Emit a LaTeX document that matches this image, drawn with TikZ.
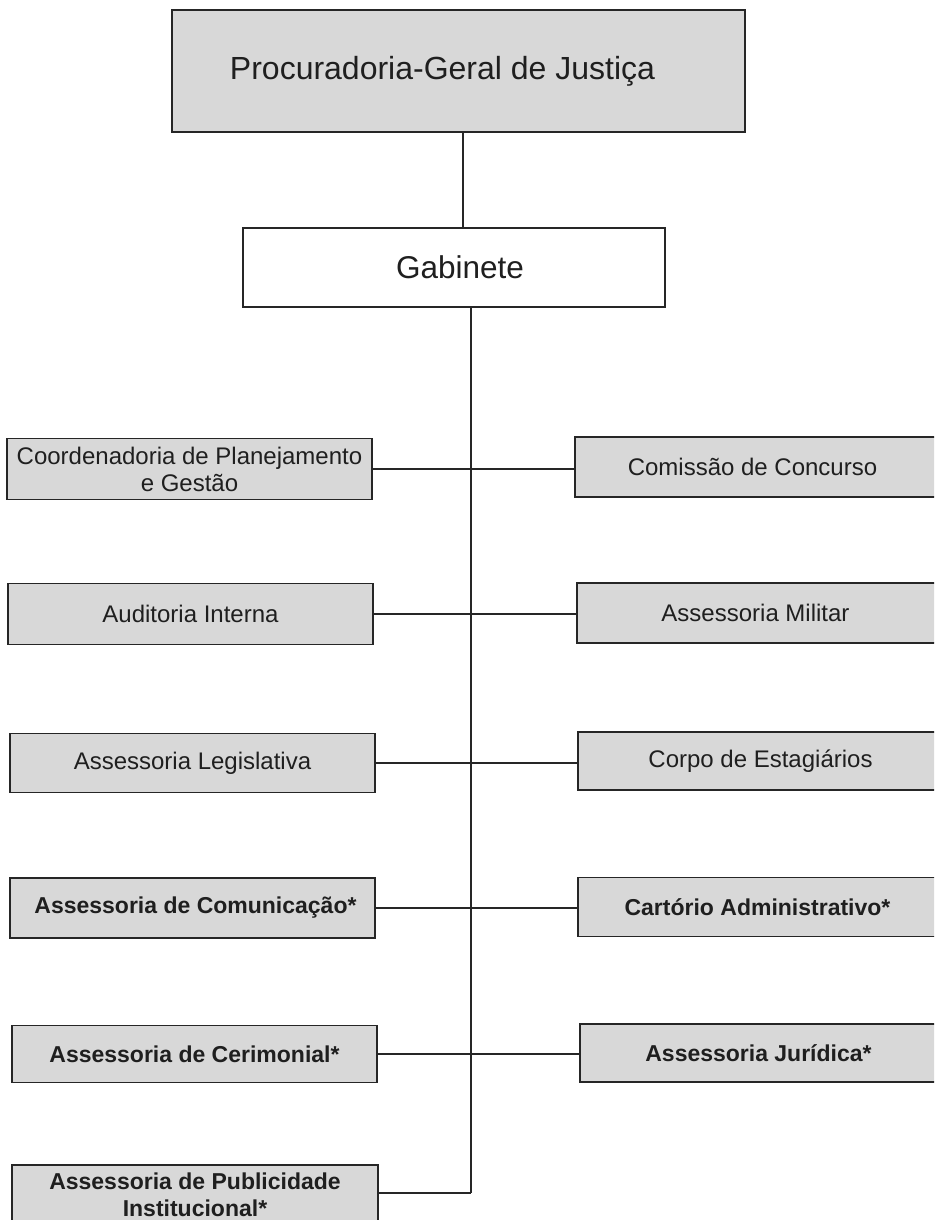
\documentclass[tikz,border=0pt]{standalone}
\usepackage{fontspec}
\setmainfont{Liberation Sans}
\begin{document}
\begin{tikzpicture}[x=1pt,y=-1pt,
  box/.style={draw=black!85,line width=1.8pt,fill=boxgray,text=black!88,align=center,inner sep=0pt,font=\fontsize{24}{27}\selectfont},
  bbox/.style={box,font=\fontsize{23}{27}\selectfont\bfseries},
  conn/.style={draw=black!85,line width=1.6pt}]
\definecolor{boxgray}{RGB}{216,216,216}
\useasboundingbox (0,0) rectangle (934,1220);
\clip (0,0) rectangle (934,1220);
% top
\node[box,minimum width=573pt,minimum height=122pt,font=\fontsize{32}{36}\selectfont] (pgj) at (458.5,71) {\hspace*{-32pt}Procuradoria-Geral de Justiça};
\node[box,fill=white,minimum width=422pt,minimum height=79pt,font=\fontsize{31.5}{36}\selectfont] (gab) at (454,267.5) {\hspace*{12pt}Gabinete};
\coordinate (tx) at (463,0);
\coordinate (tb) at (471,1193);
\draw[conn] (pgj.south -| tx) -- (gab.north -| tx);
\draw[conn] (gab.south -| tb) -- (tb);
% left column
\node[box,minimum width=365pt,minimum height=61pt] (l1) at (189.5,469) {Coordenadoria de Planejamento\\e Gestão};
\node[box,minimum width=365pt,minimum height=61pt] (l2) at (190.5,614) {Auditoria Interna};
\node[box,minimum width=365pt,minimum height=59pt] (l3) at (192.5,763) {Assessoria Legislativa};
\node[bbox,minimum width=365pt,minimum height=60pt] (l4) at (192.5,908) {\hspace*{6pt}Assessoria de Comunicação*};
\node[bbox,minimum width=365pt,minimum height=57pt] (l5) at (194.5,1054) {Assessoria de Cerimonial*};
\node[bbox,minimum width=366pt,minimum height=60pt] (l6) at (195,1195) {Assessoria de Publicidade\\Institucional*};
% right column
\node[box,minimum width=365pt,minimum height=60pt] (r1) at (757.5,467) {\hspace*{-10pt}Comissão de Concurso};
\node[box,minimum width=365pt,minimum height=60pt] (r2) at (759.5,613) {\hspace*{-8pt}Assessoria Militar};
\node[box,minimum width=365pt,minimum height=58pt] (r3) at (760.5,761) {Corpo de Estagiários};
\node[bbox,minimum width=365pt,minimum height=59pt] (r4) at (760.5,907) {\hspace*{-6pt}Cartório Administrativo*};
\node[bbox,minimum width=365pt,minimum height=58pt] (r5) at (762.5,1053) {\hspace*{-8pt}Assessoria Jurídica*};
% connectors
\draw[conn] (l1.east) -- (l1.east -| r1.west);
\draw[conn] (l2.east) -- (l2.east -| r2.west);
\draw[conn] (l3.east) -- (l3.east -| r3.west);
\draw[conn] (l4.east) -- (l4.east -| r4.west);
\draw[conn] (l5.east) -- (l5.east -| r5.west);
\draw[conn] (l6.east |- tb) -- (tb);
\end{tikzpicture}
\end{document}
